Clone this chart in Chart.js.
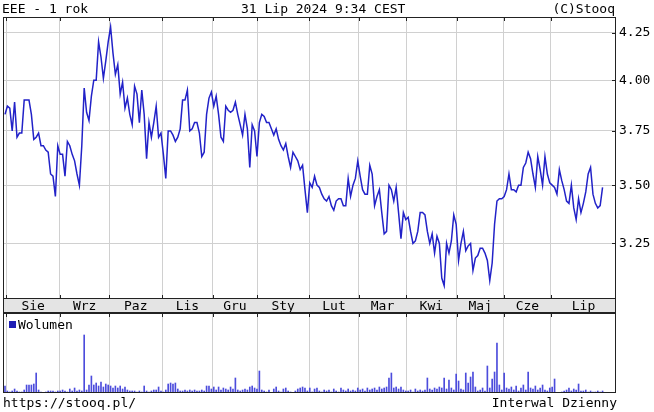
<!DOCTYPE html>
<html><head><meta charset="utf-8">
<script src="https://cdn.jsdelivr.net/npm/chart.js@4.4.1/dist/chart.umd.min.js"></script>
<style>
html,body{margin:0;padding:0;background:#fff;}
#wrap{position:relative;width:654px;height:412px;overflow:hidden;background:#fff;font-family:'DejaVu Sans Mono',monospace;font-size:13px;color:#000;}
canvas{position:absolute;left:0;}
.t{position:absolute;white-space:pre;line-height:15px;}
#sq{position:absolute;left:9px;top:321px;width:7px;height:7px;background:#1e1eb4;}
</style></head><body>
<div id="wrap">
<canvas id="price" width="654" height="314" style="top:0"></canvas>
<canvas id="vol" width="654" height="82" style="top:312px"></canvas>
<div class="t" style="left:2px;top:1px">EEE - 1 rok</div>
<div class="t" style="left:241px;top:1px">31 Lip 2024 9:34 CEST</div>
<div class="t" style="right:39px;top:1px">(C)Stooq</div>
<div id="sq"></div>
<div class="t" style="left:18px;top:317px">Wolumen</div>
<div class="t" style="left:3px;top:395px">https://stooq.pl/</div>
<div class="t" style="right:37px;top:395px">Interwal Dzienny</div>
</div>
<script>
// ---- data ----
const monthLabels = ['Sie','Wrz','Paz','Lis','Gru','Sty','Lut','Mar','Kwi','Maj','Cze','Lip'];
// trading-day index at which each month starts
const monthStartIdx = [0.6, 22.9, 43.5, 65.5, 86.5, 105.1, 126.7, 147.5, 167.1, 188.2, 207.9, 227.5];
const priceTicks = [3.25, 3.50, 3.75, 4.00, 4.25];
const closePrices = [
  3.83,3.87,3.86,3.75,3.89,3.72,3.74,3.74,3.90,3.90,
  3.90,3.83,3.71,3.72,3.74,3.68,3.68,3.66,3.65,3.55,
  3.54,3.45,3.68,3.64,3.64,3.54,3.70,3.68,3.64,3.61,
  3.55,3.50,3.68,3.96,3.84,3.80,3.92,4.00,4.00,4.20,
  4.12,4.01,4.10,4.20,4.28,4.14,4.03,4.08,3.93,3.99,
  3.86,3.91,3.83,3.78,3.97,3.93,3.79,3.95,3.83,3.62,
  3.79,3.72,3.79,3.87,3.72,3.74,3.64,3.53,3.75,3.75,
  3.73,3.70,3.72,3.76,3.90,3.90,3.95,3.75,3.76,3.79,
  3.79,3.74,3.63,3.65,3.83,3.91,3.94,3.87,3.92,3.83,
  3.72,3.70,3.87,3.85,3.84,3.85,3.89,3.83,3.78,3.73,
  3.83,3.76,3.58,3.78,3.75,3.63,3.79,3.83,3.82,3.79,
  3.79,3.76,3.73,3.76,3.71,3.68,3.66,3.69,3.63,3.58,
  3.65,3.63,3.61,3.57,3.59,3.48,3.38,3.51,3.49,3.54,
  3.50,3.49,3.46,3.44,3.43,3.45,3.41,3.39,3.43,3.44,
  3.44,3.41,3.41,3.53,3.45,3.50,3.53,3.61,3.54,3.48,
  3.46,3.46,3.59,3.55,3.41,3.45,3.48,3.38,3.29,3.30,
  3.50,3.48,3.43,3.49,3.38,3.27,3.38,3.35,3.36,3.30,
  3.25,3.26,3.30,3.38,3.38,3.37,3.30,3.25,3.29,3.21,
  3.28,3.25,3.11,3.08,3.25,3.21,3.26,3.37,3.33,3.18,
  3.25,3.30,3.22,3.24,3.25,3.14,3.19,3.20,3.23,3.23,
  3.21,3.18,3.10,3.17,3.33,3.43,3.44,3.44,3.45,3.48,
  3.55,3.48,3.48,3.47,3.50,3.50,3.58,3.60,3.65,3.62,
  3.55,3.49,3.63,3.57,3.50,3.63,3.55,3.51,3.50,3.49,
  3.46,3.57,3.52,3.48,3.43,3.42,3.50,3.40,3.35,3.44,
  3.38,3.42,3.47,3.55,3.58,3.46,3.42,3.40,3.41,3.49
];
const volumeK = [
  14,4,2,4,8,4,2,2,6,16,
  16,16,18,40,6,2,1,2,4,4,
  4,2,4,4,6,4,2,8,4,10,
  4,6,4,116,6,16,34,16,20,14,
  22,12,18,16,14,10,14,10,14,8,
  12,6,4,4,4,2,4,2,14,4,
  2,4,6,6,12,4,2,6,18,20,
  18,20,8,4,4,6,4,6,4,6,
  4,4,6,4,14,14,8,12,6,12,
  6,10,8,6,12,8,30,6,4,6,
  8,6,12,14,10,8,44,6,4,2,
  6,0,8,12,4,2,8,10,4,2,
  0,4,8,10,12,10,4,10,2,8,
  10,4,2,6,4,6,2,8,4,2,
  10,6,4,8,4,6,4,10,6,8,
  4,10,6,8,10,6,12,8,10,12,
  30,40,10,12,8,12,6,4,4,6,
  2,8,4,6,4,6,30,8,6,10,
  8,12,10,30,8,26,10,6,38,24,
  8,6,40,20,32,42,12,4,6,10,
  4,54,10,28,42,100,16,6,40,10,
  8,12,6,14,4,10,16,6,42,10,
  8,14,6,10,16,6,4,10,12,28,
  0,0,2,4,6,10,4,8,6,18,
  4,4,6,2,4,2,2,4,2,4
];
const X_MIN = -0.83, X_MAX = 254.6;
const Y_MIN = 3.028, Y_MAX = 4.335;
const VOL_MAX = 160;

// ---- derived ----
const days = closePrices.map((_, i) => i);
const monthMid = monthStartIdx.map((s, i) =>
  (s + (i + 1 < monthStartIdx.length ? monthStartIdx[i + 1] : X_MAX)) / 2);

Chart.defaults.font.family = "'DejaVu Sans Mono', monospace";
Chart.defaults.font.size = 13;
Chart.defaults.color = '#000';
Chart.defaults.animation = false;

const GRID = '#d0d0d0', FRAME = '#222222';

const framePlugin = {
  id: 'frame',
  beforeDraw(chart, args, opts) {
    const {ctx, chartArea: a} = chart;
    if (opts.strip) {
      ctx.save();
      ctx.fillStyle = '#e4e4e4';
      ctx.fillRect(a.left, a.bottom, a.right - a.left, opts.strip);
      ctx.restore();
    }
  },
  afterDraw(chart, args, opts) {
    const {ctx, chartArea: a} = chart;
    const xs = chart.scales.x;
    ctx.save();
    ctx.strokeStyle = FRAME;
    ctx.lineWidth = 1;
    const L = a.left + 0.5, R = a.right - 0.5, T = a.top + 0.5, B = a.bottom - 0.5;
    ctx.strokeRect(L, T, R - L, B - T);
    if (opts.strip) ctx.strokeRect(L, B, R - L, opts.strip);
    ctx.beginPath();
    monthStartIdx.forEach(v => {
      const px = Math.round(xs.getPixelForValue(v)) + 0.5;
      ctx.moveTo(px, a.top); ctx.lineTo(px, a.top + 4);
      if (opts.strip) { ctx.moveTo(px, a.bottom - 4); ctx.lineTo(px, a.bottom); }
    });
    if (opts.yTicks) {
      const ys = chart.scales.y;
      priceTicks.forEach(v => {
        const py = Math.round(ys.getPixelForValue(v)) + 0.5;
        ctx.moveTo(a.right - 4, py); ctx.lineTo(a.right, py);
      });
    }
    ctx.stroke();
    ctx.restore();
  }
};

const xGridScale = {
  type: 'linear', min: X_MIN, max: X_MAX, bounds: 'data', offset: false,
  afterBuildTicks: s => { s.ticks = monthStartIdx.map(v => ({value: v})); },
  ticks: {display: false},
  grid: {color: GRID, drawTicks: false, offset: false},
  border: {display: false},
  afterFit: s => { s.height = 0; }
};

new Chart(document.getElementById('price'), {
  type: 'line',
  data: {
    labels: days,
    datasets: [{
      data: closePrices,
      borderColor: '#2222c8',
      borderWidth: 1.5,
      pointRadius: 0,
      tension: 0,
      fill: false
    }]
  },
  options: {
    responsive: false,
    devicePixelRatio: 1,
    animation: false,
    layout: {padding: {left: 3, top: 17, right: 0, bottom: 1}},
    scales: {
      x: xGridScale,
      xm: {
        type: 'linear', position: 'bottom', min: X_MIN, max: X_MAX, bounds: 'data', offset: false,
        afterBuildTicks: s => { s.ticks = monthMid.map(v => ({value: v})); },
        ticks: {autoSkip: false, maxRotation: 0, padding: 0, callback: (v, i) => monthLabels[i]},
        grid: {display: false, drawTicks: false},
        border: {display: false},
        afterFit: s => { s.height = 14; }
      },
      y: {
        type: 'logarithmic', position: 'right', min: Y_MIN, max: Y_MAX, bounds: 'data',
        afterBuildTicks: s => { s.ticks = priceTicks.map(v => ({value: v})); },
        ticks: {autoSkip: false, padding: 3, callback: v => Number(v).toFixed(2)},
        grid: {color: GRID, drawTicks: false},
        border: {display: false},
        afterFit: s => { s.width = 38; }
      }
    },
    plugins: {legend: {display: false}, tooltip: {enabled: false}, frame: {strip: 14, yTicks: true}}
  },
  plugins: [framePlugin]
});

new Chart(document.getElementById('vol'), {
  type: 'bar',
  data: {
    labels: days,
    datasets: [{data: volumeK, backgroundColor: '#4c4cdc', barThickness: 1, borderWidth: 0}]
  },
  options: {
    responsive: false,
    devicePixelRatio: 1,
    animation: false,
    layout: {padding: {left: 3, top: 1, right: 38, bottom: 1}},
    scales: {
      x: xGridScale,
      y: {display: false, min: 0, max: VOL_MAX}
    },
    plugins: {legend: {display: false}, tooltip: {enabled: false}, frame: {strip: 0}}
  },
  plugins: [framePlugin]
});
</script>
</body></html>
